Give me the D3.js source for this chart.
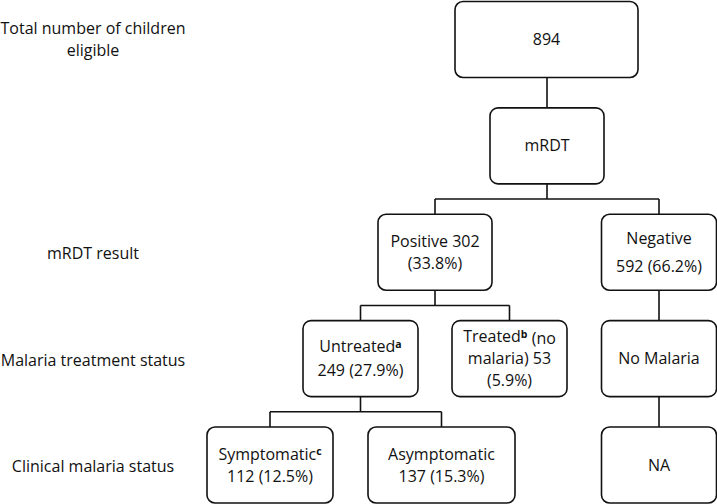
<!DOCTYPE html>
<html>
<head>
  <meta charset="utf-8">
  <script src="https://d3js.org/d3.v7.min.js"></script>
  <style>
    body { margin: 0; background: #fff; }
    text { font-family: "Open Sans", sans-serif; font-size: 16px; fill: #111; }
  </style>
</head>
<body>
<div id="chart"></div>
<script>
  // level labels on the left (row index, text lines)
  var levelRows = [0, 2, 3, 4];
  var levelLabels = [
    ["Total number of children", "eligible"],
    ["mRDT result"],
    ["Malaria treatment status"],
    ["Clinical malaria status"]
  ];

  // nodes of the flow: id, parent, row, text lines (second part = superscript mark)
  var nodeIds = ["total", "mrdt", "pos", "neg", "untr", "treat", "nomal", "sympt", "asympt", "na"];
  var nodeParents = [null, "total", "mrdt", "mrdt", "pos", "pos", "neg", "untr", "untr", "nomal"];
  var nodeRows = [0, 1, 2, 2, 3, 3, 3, 4, 4, 4];
  var nodeText = [
    [["894"]],
    [["mRDT"]],
    [["Positive 302"], ["(33.8%)"]],
    [["Negative"], ["592 (66.2%)"]],
    [["Untreated", "a"], ["249 (27.9%)"]],
    [["Treated", "b", " (no"], ["malaria) 53"], ["(5.9%)"]],
    [["No Malaria"]],
    [["Symptomatic", "c"], ["112 (12.5%)"]],
    [["Asymptomatic"], ["137 (15.3%)"]],
    [["NA"]]
  ];

  var width = 717, height = 504;

  // layout
  var cx = d3.scaleOrdinal().domain(nodeIds)
    .range([546.5, 547, 435, 659, 360.5, 509.5, 659, 270, 441.5, 659]);
  var bw = d3.scaleOrdinal().domain(nodeIds)
    .range([183, 114, 114, 115, 115, 115, 115, 126, 147, 115]);
  var lineGap = d3.scaleOrdinal().domain(nodeIds)
    .range([22, 22, 22, 28, 23.5, 22, 22, 22, 22, 22]);
  var rowTop = d3.scaleLinear().domain([0, 4]).range([1.5, 427]);
  var boxH = 76;

  var svg = d3.select("#chart").append("svg")
    .attr("width", width)
    .attr("height", height);

  var nodes = nodeIds.map(function (id, i) {
    return { id: id, parent: nodeParents[i], row: nodeRows[i], lines: nodeText[i] };
  });
  var byId = {};
  nodes.forEach(function (d) { byId[d.id] = d; });

  // connectors
  var links = svg.append("g")
    .attr("fill", "none")
    .attr("stroke", "#111")
    .attr("stroke-width", 1.6);

  nodeIds.forEach(function (pid) {
    var kids = nodes.filter(function (d) { return d.parent === pid; });
    if (!kids.length) return;
    var p = byId[pid];
    var y0 = rowTop(p.row) + boxH;
    var y1 = rowTop(kids[0].row);
    if (kids.length === 1) {
      links.append("line")
        .attr("x1", cx(kids[0].id)).attr("x2", cx(kids[0].id))
        .attr("y1", y0).attr("y2", y1);
    } else {
      var ym = (y0 + y1) / 2;
      links.append("line")
        .attr("x1", cx(pid)).attr("x2", cx(pid))
        .attr("y1", y0).attr("y2", ym);
      var xs = kids.map(function (k) { return cx(k.id); });
      links.append("line")
        .attr("x1", d3.min(xs)).attr("x2", d3.max(xs))
        .attr("y1", ym).attr("y2", ym);
      kids.forEach(function (k) {
        links.append("line")
          .attr("x1", cx(k.id)).attr("x2", cx(k.id))
          .attr("y1", ym).attr("y2", y1);
      });
    }
  });

  // boxes
  var box = svg.selectAll(".node")
    .data(nodes)
    .enter().append("g")
    .attr("class", "node");

  box.append("rect")
    .attr("x", function (d) { return cx(d.id) - bw(d.id) / 2; })
    .attr("y", function (d) { return rowTop(d.row); })
    .attr("width", function (d) { return bw(d.id); })
    .attr("height", boxH)
    .attr("rx", 8)
    .attr("fill", "#fff")
    .attr("stroke", "#111")
    .attr("stroke-width", 1.6);

  box.each(function (d) {
    var g = d3.select(this);
    var n = d.lines.length;
    var mid = rowTop(d.row) + boxH / 2;
    d.lines.forEach(function (parts, j) {
      var t = g.append("text")
        .attr("x", cx(d.id))
        .attr("y", mid + (j - (n - 1) / 2) * lineGap(d.id))
        .attr("dy", "0.35em")
        .attr("text-anchor", "middle");
      t.append("tspan").text(parts[0]);
      if (parts.length > 1) {
        t.append("tspan")
          .attr("dy", "-0.4em")
          .style("font-size", "10.5px")
          .style("font-weight", "bold")
          .text(parts[1]);
        if (parts[2]) {
          t.append("tspan").attr("dy", "0.4em").text(parts[2]);
        }
      }
    });
  });

  // level labels
  levelLabels.forEach(function (lines, i) {
    var mid = rowTop(levelRows[i]) + boxH / 2 + 1.5;
    if (i === 0) mid = 39;
    lines.forEach(function (s, j) {
      svg.append("text")
        .attr("x", 93)
        .attr("y", mid + (j - (lines.length - 1) / 2) * 22)
        .attr("dy", "0.35em")
        .attr("text-anchor", "middle")
        .text(s);
    });
  });
</script>
</body>
</html>
